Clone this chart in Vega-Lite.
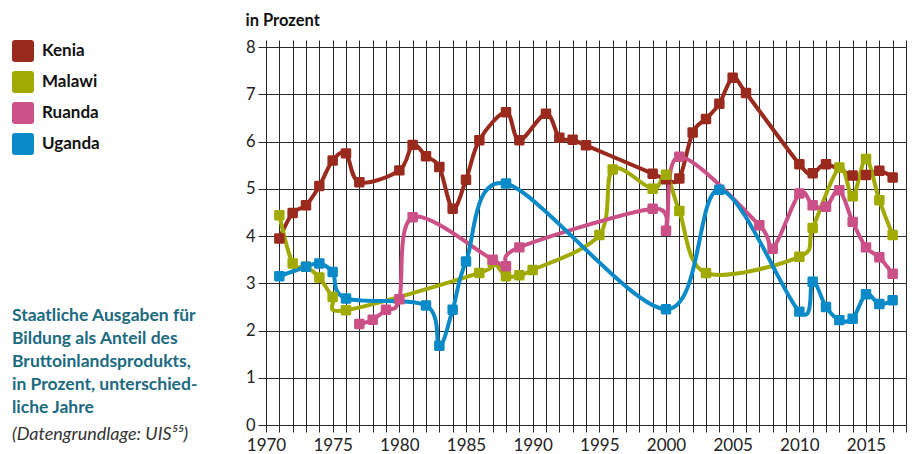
{
  "$schema": "https://vega.github.io/schema/vega-lite/v6.json",
  "width": 640,
  "height": 385,
  "autosize": {"type": "none"},
  "padding": {"left": 266, "top": 40, "right": 7, "bottom": 29},
  "background": "#ffffff",
  "title": {
    "text": ["Staatliche Ausgaben für", "Bildung als Anteil des", "Bruttoinlandsprodukts,", "in Prozent, unterschied-", "liche Jahre"],
    "subtitle": "(Datengrundlage: UIS⁵⁵)",
    "orient": "top",
    "anchor": "start",
    "frame": "group",
    "baseline": "top",
    "dx": -254,
    "dy": 436,
    "font": "Lato",
    "fontSize": 17.5,
    "fontWeight": "bold",
    "color": "#1b6a80",
    "lineHeight": 23,
    "subtitleFont": "Lato",
    "subtitleFontSize": 18,
    "subtitleFontStyle": "italic",
    "subtitleFontWeight": "normal",
    "subtitleColor": "#333333",
    "subtitlePadding": 10
  },
  "data": {
    "values": [
      {"land": "Kenia", "jahr": 1971, "wert": 3.95},
      {"land": "Kenia", "jahr": 1972, "wert": 4.49},
      {"land": "Kenia", "jahr": 1973, "wert": 4.65},
      {"land": "Kenia", "jahr": 1974, "wert": 5.06},
      {"land": "Kenia", "jahr": 1975, "wert": 5.6},
      {"land": "Kenia", "jahr": 1976, "wert": 5.75},
      {"land": "Kenia", "jahr": 1977, "wert": 5.14},
      {"land": "Kenia", "jahr": 1980, "wert": 5.39},
      {"land": "Kenia", "jahr": 1981, "wert": 5.93},
      {"land": "Kenia", "jahr": 1982, "wert": 5.69},
      {"land": "Kenia", "jahr": 1983, "wert": 5.46},
      {"land": "Kenia", "jahr": 1984, "wert": 4.58},
      {"land": "Kenia", "jahr": 1985, "wert": 5.19},
      {"land": "Kenia", "jahr": 1986, "wert": 6.03},
      {"land": "Kenia", "jahr": 1988, "wert": 6.62},
      {"land": "Kenia", "jahr": 1989, "wert": 6.03},
      {"land": "Kenia", "jahr": 1991, "wert": 6.59},
      {"land": "Kenia", "jahr": 1992, "wert": 6.08},
      {"land": "Kenia", "jahr": 1993, "wert": 6.04},
      {"land": "Kenia", "jahr": 1994, "wert": 5.92},
      {"land": "Kenia", "jahr": 1999, "wert": 5.32},
      {"land": "Kenia", "jahr": 2000, "wert": 5.2},
      {"land": "Kenia", "jahr": 2001, "wert": 5.22},
      {"land": "Kenia", "jahr": 2002, "wert": 6.19},
      {"land": "Kenia", "jahr": 2003, "wert": 6.48},
      {"land": "Kenia", "jahr": 2004, "wert": 6.8},
      {"land": "Kenia", "jahr": 2005, "wert": 7.35},
      {"land": "Kenia", "jahr": 2006, "wert": 7.03},
      {"land": "Kenia", "jahr": 2010, "wert": 5.52},
      {"land": "Kenia", "jahr": 2011, "wert": 5.33},
      {"land": "Kenia", "jahr": 2012, "wert": 5.52},
      {"land": "Kenia", "jahr": 2014, "wert": 5.28},
      {"land": "Kenia", "jahr": 2015, "wert": 5.29},
      {"land": "Kenia", "jahr": 2016, "wert": 5.38},
      {"land": "Kenia", "jahr": 2017, "wert": 5.24},
      {"land": "Malawi", "jahr": 1971, "wert": 4.44},
      {"land": "Malawi", "jahr": 1972, "wert": 3.42},
      {"land": "Malawi", "jahr": 1973, "wert": 3.35},
      {"land": "Malawi", "jahr": 1974, "wert": 3.12},
      {"land": "Malawi", "jahr": 1975, "wert": 2.71},
      {"land": "Malawi", "jahr": 1976, "wert": 2.43},
      {"land": "Malawi", "jahr": 1986, "wert": 3.22},
      {"land": "Malawi", "jahr": 1987, "wert": 3.45},
      {"land": "Malawi", "jahr": 1988, "wert": 3.15},
      {"land": "Malawi", "jahr": 1989, "wert": 3.17},
      {"land": "Malawi", "jahr": 1990, "wert": 3.28},
      {"land": "Malawi", "jahr": 1995, "wert": 4.02},
      {"land": "Malawi", "jahr": 1996, "wert": 5.41},
      {"land": "Malawi", "jahr": 1999, "wert": 5.0},
      {"land": "Malawi", "jahr": 2000, "wert": 5.3},
      {"land": "Malawi", "jahr": 2001, "wert": 4.53},
      {"land": "Malawi", "jahr": 2003, "wert": 3.22},
      {"land": "Malawi", "jahr": 2010, "wert": 3.56},
      {"land": "Malawi", "jahr": 2011, "wert": 4.17},
      {"land": "Malawi", "jahr": 2013, "wert": 5.45},
      {"land": "Malawi", "jahr": 2014, "wert": 4.84},
      {"land": "Malawi", "jahr": 2015, "wert": 5.63},
      {"land": "Malawi", "jahr": 2016, "wert": 4.76},
      {"land": "Malawi", "jahr": 2017, "wert": 4.02},
      {"land": "Ruanda", "jahr": 1977, "wert": 2.14},
      {"land": "Ruanda", "jahr": 1978, "wert": 2.23},
      {"land": "Ruanda", "jahr": 1979, "wert": 2.44},
      {"land": "Ruanda", "jahr": 1980, "wert": 2.66},
      {"land": "Ruanda", "jahr": 1981, "wert": 4.4},
      {"land": "Ruanda", "jahr": 1987, "wert": 3.5},
      {"land": "Ruanda", "jahr": 1988, "wert": 3.36},
      {"land": "Ruanda", "jahr": 1989, "wert": 3.76},
      {"land": "Ruanda", "jahr": 1999, "wert": 4.58},
      {"land": "Ruanda", "jahr": 2000, "wert": 4.11},
      {"land": "Ruanda", "jahr": 2001, "wert": 5.68},
      {"land": "Ruanda", "jahr": 2007, "wert": 4.23},
      {"land": "Ruanda", "jahr": 2008, "wert": 3.73},
      {"land": "Ruanda", "jahr": 2010, "wert": 4.9},
      {"land": "Ruanda", "jahr": 2011, "wert": 4.65},
      {"land": "Ruanda", "jahr": 2012, "wert": 4.62},
      {"land": "Ruanda", "jahr": 2013, "wert": 4.97},
      {"land": "Ruanda", "jahr": 2014, "wert": 4.3},
      {"land": "Ruanda", "jahr": 2015, "wert": 3.76},
      {"land": "Ruanda", "jahr": 2016, "wert": 3.55},
      {"land": "Ruanda", "jahr": 2017, "wert": 3.2},
      {"land": "Uganda", "jahr": 1971, "wert": 3.15},
      {"land": "Uganda", "jahr": 1973, "wert": 3.35},
      {"land": "Uganda", "jahr": 1974, "wert": 3.42},
      {"land": "Uganda", "jahr": 1975, "wert": 3.24},
      {"land": "Uganda", "jahr": 1976, "wert": 2.68},
      {"land": "Uganda", "jahr": 1982, "wert": 2.53},
      {"land": "Uganda", "jahr": 1983, "wert": 1.68},
      {"land": "Uganda", "jahr": 1984, "wert": 2.44},
      {"land": "Uganda", "jahr": 1985, "wert": 3.46},
      {"land": "Uganda", "jahr": 1988, "wert": 5.11},
      {"land": "Uganda", "jahr": 2000, "wert": 2.45},
      {"land": "Uganda", "jahr": 2004, "wert": 4.98},
      {"land": "Uganda", "jahr": 2010, "wert": 2.4},
      {"land": "Uganda", "jahr": 2011, "wert": 3.03},
      {"land": "Uganda", "jahr": 2012, "wert": 2.5},
      {"land": "Uganda", "jahr": 2013, "wert": 2.22},
      {"land": "Uganda", "jahr": 2014, "wert": 2.25},
      {"land": "Uganda", "jahr": 2015, "wert": 2.77},
      {"land": "Uganda", "jahr": 2016, "wert": 2.56},
      {"land": "Uganda", "jahr": 2017, "wert": 2.64}
    ]
  },
  "encoding": {
    "x": {
      "field": "jahr",
      "type": "quantitative",
      "scale": {"domain": [1970, 2018], "nice": false, "zero": false},
      "axis": {
        "title": null,
        "values": [1970,1971,1972,1973,1974,1975,1976,1977,1978,1979,1980,1981,1982,1983,1984,1985,1986,1987,1988,1989,1990,1991,1992,1993,1994,1995,1996,1997,1998,1999,2000,2001,2002,2003,2004,2005,2006,2007,2008,2009,2010,2011,2012,2013,2014,2015,2016,2017,2018],
        "format": "d",
        "labelExpr": "datum.value % 5 == 0 ? datum.label : ''",
        "labelOverlap": false,
        "labelFlush": false,
        "labelPadding": 5,
        "tickSize": 7,
        "domain": false,
        "grid": true
      }
    },
    "y": {
      "field": "wert",
      "type": "quantitative",
      "scale": {"domain": [0, 8.15], "nice": false},
      "axis": {
        "title": "in Prozent",
        "titleAngle": 0,
        "titleAlign": "left",
        "titleBaseline": "alphabetic",
        "titleX": -21,
        "titleY": -15,
        "titleFont": "Lato",
        "titleFontSize": 16.5,
        "titleFontWeight": "bold",
        "titleColor": "#111111",
        "values": [0,1,2,3,4,5,6,7,8],
        "format": "d",
        "labelPadding": 3,
        "labelFontSize": 16.5,
        "tickSize": 8,
        "domain": false,
        "grid": true
      }
    }
  },
  "layer": [
    {
      "mark": {"type": "line", "interpolate": "cardinal", "strokeWidth": 4},
      "encoding": {
        "stroke": {
          "field": "land",
          "type": "nominal",
          "legend": null,
          "scale": {
            "domain": ["Kenia", "Malawi", "Ruanda", "Uganda"],
            "range": ["#9a291e", "#a1aa00", "#cc5088", "#0a8ac8"]
          }
        },
        "detail": {"field": "land"}
      }
    },
    {
      "mark": {
        "type": "point",
        "filled": true,
        "opacity": 1,
        "size": 110,
        "shape": "M-0.73,-1L0.73,-1Q1,-1,1,-0.73L1,0.73Q1,1,0.73,1L-0.73,1Q-1,1,-1,0.73L-1,-0.73Q-1,-1,-0.73,-1Z"
      },
      "encoding": {
        "color": {
          "field": "land",
          "type": "nominal",
          "scale": {
            "domain": ["Kenia", "Malawi", "Ruanda", "Uganda"],
            "range": ["#9a291e", "#a1aa00", "#cc5088", "#0a8ac8"]
          },
          "legend": {
            "title": null,
            "orient": "none",
            "legendX": -254,
            "legendY": 0,
            "symbolType": "M-0.73,-1L0.73,-1Q1,-1,1,-0.73L1,0.73Q1,1,0.73,1L-0.73,1Q-1,1,-1,0.73L-1,-0.73Q-1,-1,-0.73,-1Z",
            "symbolSize": 484,
            "symbolOpacity": 1,
            "symbolStrokeWidth": 0,
            "rowPadding": 9,
            "labelOffset": 8,
            "labelFont": "Lato",
            "labelFontSize": 17,
            "labelFontWeight": "bold",
            "labelColor": "#111111",
            "padding": 0
          }
        }
      }
    }
  ],
  "resolve": {"scale": {"stroke": "independent"}},
  "config": {
    "view": {"stroke": null},
    "axis": {
      "gridColor": "#2a2a2a",
      "gridOpacity": 1,
      "gridWidth": 1,
      "tickColor": "#2a2a2a",
      "tickWidth": 1,
      "labelFont": "Lato",
      "labelFontSize": 17,
      "labelColor": "#222222"
    }
  }
}
